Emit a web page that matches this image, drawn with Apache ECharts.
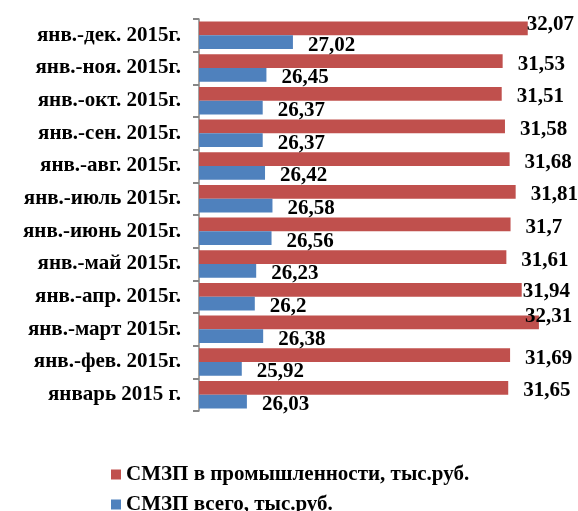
<!DOCTYPE html>
<html>
<head>
<meta charset="utf-8">
<script src="https://cdn.jsdelivr.net/npm/echarts@6/dist/echarts.min.js"></script>
<style>
  html, body { margin: 0; padding: 0; background: #fff; }
  #main { width: 578px; height: 511px; }
</style>
</head>
<body>
<div id="main"></div>
<script>
    var periods = ['январь 2015 г.', 'янв.-фев. 2015г.', 'янв.-март 2015г.', 'янв.-апр. 2015г.',
        'янв.-май 2015г.', 'янв.-июнь 2015г.', 'янв.-июль 2015г.', 'янв.-авг. 2015г.',
        'янв.-сен. 2015г.', 'янв.-окт. 2015г.', 'янв.-ноя. 2015г.', 'янв.-дек. 2015г.'];
    var promValues = [31.65, 31.69, 32.31, 31.94, 31.61, 31.7, 31.81, 31.68, 31.58, 31.51, 31.53, 32.07];
    var vsegoValues = [26.03, 25.92, 26.38, 26.2, 26.23, 26.56, 26.58, 26.42, 26.37, 26.37, 26.45, 27.02];
    var seriesNames = ['СМЗП в промышленности, тыс.руб.', 'СМЗП всего, тыс.руб.'];

    // labels that Excel pushed around because they did not fit
    var promOffsets = { 2: [-29, -6], 3: [-14, 2], 11: [-16, -4] };

    var dom = document.getElementById('main');
    var myChart = echarts.init(dom, null, { renderer: 'canvas' });

    var fmt = function (p) { return String(p.value).replace('.', ','); };
    var labelStyle = {
        show: true,
        position: 'right',
        distance: 15,
        offset: [0, 3],
        fontFamily: 'Liberation Serif',
        fontWeight: 'bold',
        fontSize: 21,
        color: '#000',
        formatter: fmt
    };

    var promData = promValues.map(function (v, i) {
        var item = { value: v };
        if (promOffsets[i]) item.label = { offset: promOffsets[i] };
        return item;
    });

    var legendText = {
        fontFamily: 'Liberation Serif',
        fontWeight: 'bold',
        fontSize: 21,
        color: '#000'
    };

    // one legend per line, stacked like in the original
    var legends = seriesNames.map(function (name, i) {
        return {
            left: 111,
            top: 464 + i * 30,
            padding: 0,
            itemWidth: 10,
            itemHeight: 10,
            itemGap: 6,
            icon: 'rect',
            data: [name],
            textStyle: legendText
        };
    });

    var option = {
        animation: false,
        grid: { left: 199, right: 7, top: 19, bottom: 100 },
        legend: legends,
        xAxis: {
            type: 'value',
            min: 25,
            max: 33,
            show: false
        },
        yAxis: {
            type: 'category',
            data: periods,
            axisLine: { show: true, lineStyle: { color: '#868686', width: 1.5 } },
            axisTick: { show: true, interval: 0, length: 6, lineStyle: { color: '#868686', width: 2 } },
            axisLabel: {
                margin: 18,
                fontFamily: 'Liberation Serif',
                fontWeight: 'bold',
                fontSize: 21,
                color: '#000'
            }
        },
        series: [{
            name: seriesNames[0],
            type: 'bar',
            data: promData,
            barGap: '0%',
            barCategoryGap: '16%',
            itemStyle: { color: '#C0504D' },
            label: labelStyle
        }, {
            name: seriesNames[1],
            type: 'bar',
            data: vsegoValues,
            itemStyle: { color: '#4F81BD' },
            label: labelStyle
        }]
    };

    option && myChart.setOption(option);
</script>
</body>
</html>
